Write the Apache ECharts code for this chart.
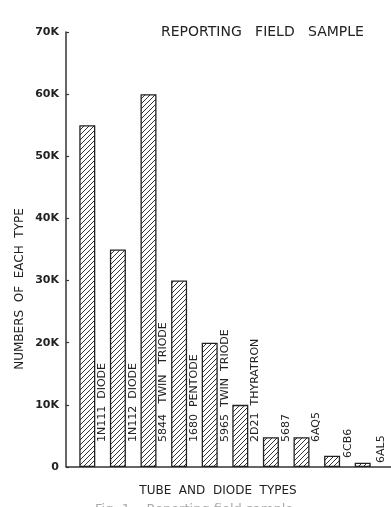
<!DOCTYPE html>
<html>
<head>
<meta charset="utf-8">
<script src="https://cdn.jsdelivr.net/npm/echarts@6/dist/echarts.min.js"></script>
<style>
html, body { margin: 0; padding: 0; background: #fff; }
#chart { width: 391px; height: 507px; }
</style>
</head>
<body>
<div id="chart"></div>
<script>
// tube types and how many of each were reported
var tubeTypes = ['1N111  DIODE', '1N112  DIODE', '5844   TWIN   TRIODE', '1680  PENTODE',
  '5965  TWIN  TRIODE', '2D21  THYRATRON', '5687', '6AQ5', '6CB6', '6AL5'];
var counts = [55000, 35000, 60000, 30000, 20000, 10000, 4800, 4800, 1800, 700];
var yTicks = ['0', '10K', '20K', '30K', '40K', '50K', '60K', '70K'];

var ink = '#222';
var font = 'DejaVu Sans';

// diagonal hatching for the bars
function hatch() {
  var c = document.createElement('canvas');
  c.width = 5; c.height = 5;
  var ctx = c.getContext('2d');
  ctx.fillStyle = '#fff';
  ctx.fillRect(0, 0, 5, 5);
  ctx.strokeStyle = '#333';
  ctx.lineWidth = 1;
  ctx.beginPath();
  ctx.moveTo(0, 5); ctx.lineTo(5, 0);
  ctx.moveTo(-1, 1); ctx.lineTo(1, -1);
  ctx.moveTo(4, 6); ctx.lineTo(6, 4);
  ctx.stroke();
  return c;
}

// the two smallest bars have their labels set lower
var barData = counts.map(function (v, i) {
  var item = { value: v };
  if (i === 8) item.label = { offset: [9, 8] };
  if (i === 9) item.label = { offset: [4, 10] };
  return item;
});

var chart = echarts.init(document.getElementById('chart'), null, { renderer: 'canvas' });
chart.setOption({
  animation: false,
  title: {
    text: 'REPORTING   FIELD   SAMPLE',
    left: 156,
    top: 20,
    textStyle: { fontFamily: font, fontSize: 14, fontWeight: 'normal', color: ink }
  },
  grid: { left: 72, right: 13, top: 32, bottom: 40 },
  xAxis: {
    type: 'category',
    data: tubeTypes,
    axisLine: { show: false },
    axisTick: { show: false },
    axisLabel: { show: false },
    name: 'TUBE  AND  DIODE  TYPES',
    nameLocation: 'middle',
    nameGap: 18,
    nameTextStyle: { fontFamily: font, fontSize: 12, color: ink, padding: [0, 14, 0, 0] }
  },
  yAxis: {
    type: 'value',
    min: 0,
    max: 70000,
    interval: 10000,
    offset: 6,
    axisLine: { show: true, lineStyle: { color: '#333', width: 1.5 } },
    axisTick: { show: true, inside: true, length: 3, lineStyle: { color: '#333', width: 1.2 } },
    splitLine: { show: false },
    axisLabel: {
      margin: 7,
      fontFamily: font,
      fontSize: 11,
      fontWeight: 'bold',
      color: ink,
      formatter: function (v) { return yTicks[Math.round(v / 10000)]; }
    }
  },
  series: [{
    type: 'bar',
    data: barData,
    barWidth: 16,
    itemStyle: {
      color: { image: hatch(), repeat: 'repeat' },
      borderColor: ink,
      borderWidth: 1.3
    },
    label: {
      show: true,
      formatter: function (p) { return tubeTypes[p.dataIndex]; },
      position: ['100%', '100%'],
      rotate: 90,
      align: 'left',
      verticalAlign: 'middle',
      offset: [25, 7],
      fontFamily: font,
      fontSize: 11,
      color: ink
    }
  }],
  graphic: [
    {
      type: 'line',
      shape: { x1: 66, y1: 467, x2: 391, y2: 467 },
      style: { stroke: '#333', lineWidth: 1.5 }
    },
    {
      type: 'text',
      x: 20,
      y: 289,
      rotation: Math.PI / 2,
      style: {
        text: 'NUMBERS  OF  EACH  TYPE',
        font: '12px "DejaVu Sans"',
        fill: ink,
        textAlign: 'center',
        textVerticalAlign: 'middle'
      }
    },
    {
      type: 'text',
      x: 95,
      y: 503,
      style: {
        text: 'Fig. 1    Reporting field sample',
        font: '13px "DejaVu Sans"',
        fill: '#aaa',
        textVerticalAlign: 'top'
      }
    }
  ]
});
</script>
</body>
</html>
